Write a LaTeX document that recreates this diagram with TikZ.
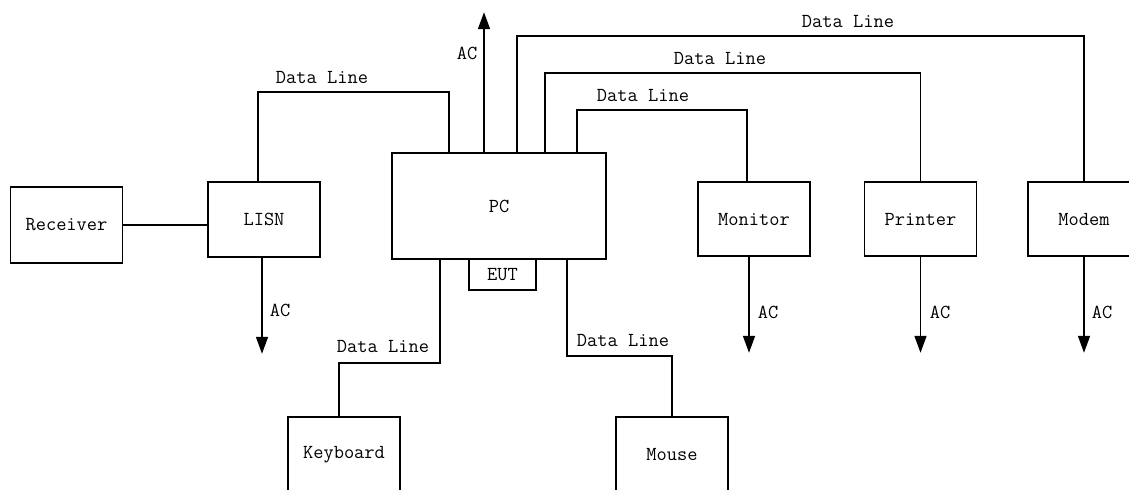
\documentclass[tikz,border=0pt]{standalone}
\usepackage{tikz}
\usetikzlibrary{positioning,calc}
\usetikzlibrary{arrows.meta}

\begin{document}
\begin{tikzpicture}[x=0.02cm, y=-0.02cm, >={Triangle[length=3.4mm,width=2.4mm]}, line width=0.9pt, font=\ttfamily\fontsize{11.3}{13}\selectfont, device/.style={draw, rectangle, minimum width=2.24cm, minimum height=1.5cm, inner sep=0pt}, tag/.style={inner sep=0pt}]
	\useasboundingbox (0,0) rectangle (1129,490);
	\clip (0,0) rectangle (1129,490);

	% Nodes

	\node [device, minimum height=1.52cm] (rec) at (66.5,225) {Receiver};
	\node [device] (lisn) at (264,219.5) {LISN};
	\node [device, minimum width=4.28cm, minimum height=2.12cm] (pc) at (499,206) {PC};
	\node [draw, rectangle, minimum width=1.34cm, minimum height=0.62cm, inner sep=0pt] (eut) at (502.5,274.5) {EUT};
	\node [device, minimum height=1.48cm] (mon) at (754,219) {Monitor};
	\node [device, minimum height=1.48cm] (prn) at (920.5,219) {Printer};
	\node [device, minimum height=1.48cm] (mdm) at (1084,219) {Modem};
	\node [device] (kbd) at (344,454.5) {Keyboard};
	\node [device] (mse) at (672,454.5) {Mouse};

	% Labels

	\node [tag] (dl1) at (322,77) {Data Line};
	\node [tag] (dl2) at (848,21) {Data Line};
	\node [tag] (dl3) at (720,58) {Data Line};
	\node [tag] (dl4) at (643,95) {Data Line};
	\node [tag] (dl5) at (383,346) {Data Line};
	\node [tag] (dl6) at (623,340) {Data Line};
	\node [tag] (ac0) at (467,53) {AC};
	\node [tag] (ac1) at (280,310) {AC};
	\node [tag] (ac2) at (768,312) {AC};
	\node [tag] (ac3) at (940,312) {AC};
	\node [tag] (ac4) at (1102,312) {AC};

	% Lines

	\draw (rec.east) -- (rec.east -| lisn.west);
	\draw ([xshift=-0.12cm]lisn.north) -- ++(0,-89) -| ([xshift=-1cm]pc.north);
	\draw ([xshift=0.36cm]pc.north) -- ++(0,-116) -| (mdm.north);
	\draw ([xshift=0.92cm]pc.north) -- ++(0,-79) -| (prn.north);
	\draw ([xshift=1.56cm]pc.north) -- ++(0,-42) -| ([xshift=-0.14cm]mon.north);
	\draw ([xshift=-1.18cm]pc.south) -- ++(0,103) -| ([xshift=-0.1cm]kbd.north);
	\draw ([xshift=1.36cm]pc.south) -- ++(0,96) -| (mse.north);

	% Arrows

	\draw[->] ([xshift=-0.3cm]pc.north) -- ++(0,-140);
	\draw[->] ([xshift=-0.04cm]lisn.south) -- ++(0,96);
	\draw[->] ([xshift=-0.1cm]mon.south) -- ++(0,96);
	\draw[->] (prn.south) -- ++(0,96);\draw[->] (mdm.south) -- ++(0,96);
\end{tikzpicture}
\end{document}
